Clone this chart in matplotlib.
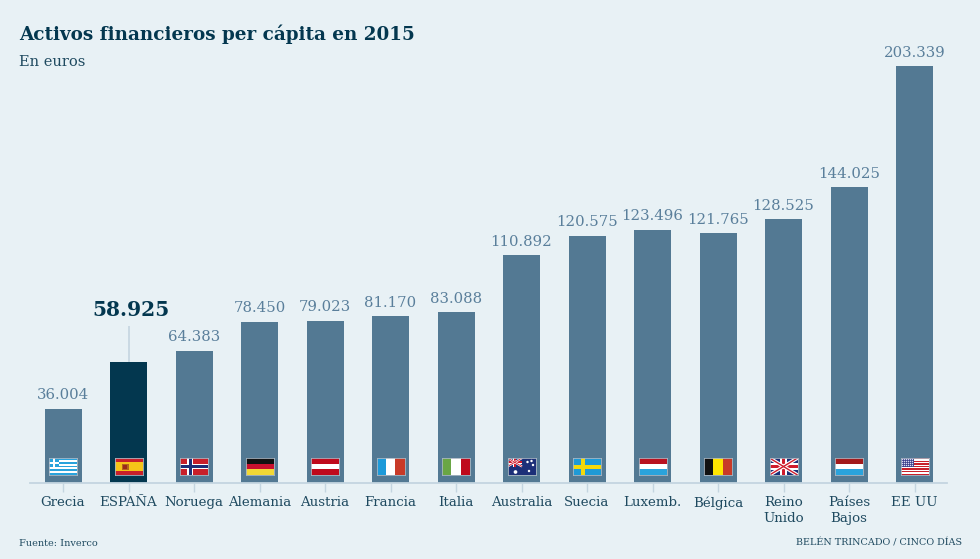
import matplotlib
matplotlib.use("Agg")
import matplotlib.pyplot as plt
from matplotlib.patches import Rectangle

paises = ["Grecia", "ESPAÑA", "Noruega", "Alemania", "Austria", "Francia", "Italia",
          "Australia", "Suecia", "Luxemb.", "Bélgica", "Reino\nUnido", "Países\nBajos", "EE UU"]
valores = [36004, 58925, 64383, 78450, 79023, 81170, 83088,
           110892, 120575, 123496, 121765, 128525, 144025, 203339]
etiquetas = ["36.004", "58.925", "64.383", "78.450", "79.023", "81.170", "83.088",
             "110.892", "120.575", "123.496", "121.765", "128.525", "144.025", "203.339"]
banderas = ["gr", "es", "no", "de", "at", "fr", "it", "au", "se", "lu", "be", "uk", "nl", "us"]

FONDO = "#e8f1f5"
BARRA = "#537993"
OSCURO = "#03374f"
TEXTO = "#1f4a60"
LINEA = "#c4d5e0"
FUENTE = "DejaVu Serif"

W, H = 980, 559
PASO = 65.5      # px entre barras
X0 = 63.0        # px centro primera barra
Y0 = 482.5       # px linea base
ESCALA = 2.0483  # px por cada 1000 euros

# franjas horizontales: (colores de arriba a abajo)
FRANJAS = {
    "de": ["#111111", "#c8102e", "#f2d835"],
    "at": ["#bf0a1c", "#ffffff", "#bf0a1c"],
    "lu": ["#b9111f", "#ffffff", "#2aa3dc"],
    "nl": ["#a31a1c", "#ffffff", "#2aa3dc"],
}
# franjas verticales
COLUMNAS = {
    "fr": ["#1d9ad9", "#ffffff", "#c83a28"],
    "it": ["#6aa645", "#ffffff", "#bf0a1c"],
    "be": ["#111111", "#ffe500", "#c83a28"],
}


def rect(a, x, y, w, h, color):
    a.add_patch(Rectangle((x, y), w, h, facecolor=color, edgecolor="none"))


def cruz(a, cx, cy, color, grosor):
    rect(a, cx - grosor / 2, 0, grosor, 17, color)
    rect(a, 0, cy - grosor / 2, 28, grosor, color)


def union_jack(a, x1, y1, escala=1.0):
    # cuadro con aspas, ocupa de (0,0) a (x1,y1)
    rect(a, 0, 0, x1, y1, "#1c2f78")
    a.plot([0, x1], [0, y1], color="white", lw=2.6 * escala, solid_capstyle="butt")
    a.plot([0, x1], [y1, 0], color="white", lw=2.6 * escala, solid_capstyle="butt")
    a.plot([0, x1], [0, y1], color="#cf1b2b", lw=1.0 * escala, solid_capstyle="butt")
    a.plot([0, x1], [y1, 0], color="#cf1b2b", lw=1.0 * escala, solid_capstyle="butt")
    rect(a, x1 / 2 - x1 * 0.11, 0, x1 * 0.22, y1, "white")
    rect(a, 0, y1 / 2 - y1 * 0.18, x1, y1 * 0.36, "white")
    rect(a, x1 / 2 - x1 * 0.06, 0, x1 * 0.12, y1, "#cf1b2b")
    rect(a, 0, y1 / 2 - y1 * 0.10, x1, y1 * 0.20, "#cf1b2b")


def bandera(a, tipo):
    a.set_xlim(0, 28)
    a.set_ylim(17, 0)
    a.set_xticks([])
    a.set_yticks([])
    for s in a.spines.values():
        s.set_color("#a9b6c2")
        s.set_linewidth(0.6)
    if tipo in FRANJAS:
        for j, c in enumerate(FRANJAS[tipo]):
            rect(a, 0, j * 17 / 3, 28, 17 / 3, c)
    elif tipo in COLUMNAS:
        for j, c in enumerate(COLUMNAS[tipo]):
            rect(a, j * 28 / 3, 0, 28 / 3, 17, c)
    elif tipo == "gr":
        rect(a, 0, 0, 28, 17, "#ffffff")
        for j in range(0, 9, 2):
            rect(a, 0, j * 17 / 9, 28, 17 / 9, "#2aa3dc")
        rect(a, 0, 0, 10, 17 * 5 / 9, "#2aa3dc")
        rect(a, 4, 0, 2, 17 * 5 / 9, "#ffffff")
        rect(a, 0, 3.8, 10, 1.9, "#ffffff")
    elif tipo == "es":
        rect(a, 0, 0, 28, 17, "#c8202a")
        rect(a, 0, 4.2, 28, 8.6, "#f5c518")
        rect(a, 7, 5.5, 7, 6.5, "#b5651d")
        rect(a, 8.5, 6.5, 4, 4, "#9c2a1a")
    elif tipo == "no":
        rect(a, 0, 0, 28, 17, "#c8202a")
        cruz(a, 10, 8.5, "#ffffff", 5.5)
        cruz(a, 10, 8.5, "#1c2f78", 3)
    elif tipo == "se":
        rect(a, 0, 0, 28, 17, "#1f9ad6")
        cruz(a, 10, 8.5, "#f5d90a", 4)
    elif tipo == "au":
        rect(a, 0, 0, 28, 17, "#1c2f78")
        union_jack(a, 14.5, 8.5, 0.6)
        a.scatter([20, 24, 25.5, 21.5, 8], [4, 3, 7, 13, 14], s=[3, 3, 3, 3, 7], color="white", lw=0)
    elif tipo == "uk":
        union_jack(a, 28, 17)
    elif tipo == "us":
        rect(a, 0, 0, 28, 17, "#ffffff")
        for j in range(0, 13, 2):
            rect(a, 0, j * 17 / 13, 28, 17 / 13, "#c8202a")
        rect(a, 0, 0, 13, 17 * 7 / 13, "#3b3f8c")
        for fila in range(4):
            a.scatter([1.5 + k * 2 for k in range(6)], [1.2 + fila * 2] * 6, s=1, color="#d8daf0", lw=0)


fig = plt.figure(figsize=(W / 100, H / 100), dpi=100, facecolor=FONDO)
ax = fig.add_axes([0, 0, 1, 1], facecolor=FONDO)
ax.set_xlim(-X0 / PASO, (W - X0) / PASO)
ax.set_ylim(-(H - Y0) / ESCALA * 1000, Y0 / ESCALA * 1000)
ax.axis("off")

pos = list(range(len(paises)))
colores = [OSCURO if p == "ESPAÑA" else BARRA for p in paises]
ax.bar(pos, valores, width=37 / PASO, color=colores, zorder=2)

px_y = 1000 / ESCALA  # valor que equivale a 1 px en vertical
px_x = 1 / PASO

# eje y marcas
ax.plot([(30 - X0) * px_x, (947 - X0) * px_x], [0, 0], color=LINEA, lw=1.3, zorder=3)
ax.vlines(pos, -9 * px_y, 0, color=LINEA, lw=1, zorder=1)

for i, p in enumerate(paises):
    # etiqueta de valor
    if p == "ESPAÑA":
        ax.vlines(i, valores[i], valores[i] + 36 * px_y, color=LINEA, lw=1.2)
        ax.text(i + 2.5 * px_x, valores[i] + 46 * px_y, etiquetas[i], ha="center", va="baseline",
                family=FUENTE, fontsize=14.6, fontweight="bold", color=OSCURO)
    else:
        ax.text(i, valores[i] + 9.5 * px_y, etiquetas[i], ha="center", va="baseline",
                family=FUENTE, fontsize=10.7, color="#5a7f9b")
    # nombre del pais
    ax.text(i, -13.5 * px_y, p, ha="center", va="top", family=FUENTE, fontsize=9.6,
            color=TEXTO, linespacing=1.3)
    # bandera
    ins = ax.inset_axes([i - 14 * px_x, 7.5 * px_y, 28 * px_x, 17 * px_y], transform=ax.transData, zorder=4)
    bandera(ins, banderas[i])

fig.text(19 / W, 1 - 39.5 / H, "Activos financieros per cápita en 2015", family=FUENTE,
         fontsize=13.2, fontweight="bold", color=OSCURO)
fig.text(19 / W, 1 - 65.5 / H, "En euros", family=FUENTE, fontsize=10.5, color=TEXTO)
fig.text(19 / W, 1 - 545.5 / H, "Fuente: Inverco", family=FUENTE, fontsize=7, color=TEXTO)
fig.text(962 / W, 1 - 545.5 / H, "BELÉN TRINCADO / CINCO DÍAS", family=FUENTE, fontsize=6.9,
         color=TEXTO, ha="right")

fig.savefig("out.png", dpi=100, facecolor=FONDO)
